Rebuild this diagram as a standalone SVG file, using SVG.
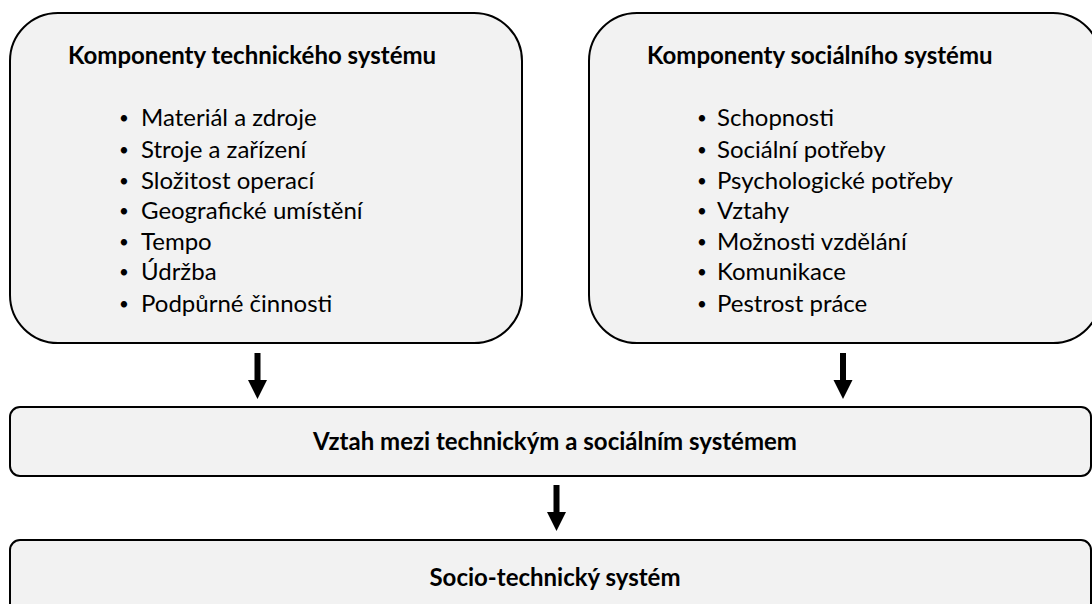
<svg xmlns="http://www.w3.org/2000/svg" width="1092" height="604" viewBox="0 0 1092 604">
  <style>
    .box { fill: #f2f2f2; stroke: #000; stroke-width: 2; }
    .head { font-family: Lato, "Open Sans", sans-serif; font-weight: bold; font-size: 24px; fill: #000; }
    .item { font-family: Lato, "Open Sans", sans-serif; font-size: 24px; fill: #000; }
    .dot { font-family: Lato, "Open Sans", sans-serif; font-size: 17px; fill: #000; text-anchor: middle; }
    .arrow { fill: #000; }
  </style>
  <rect width="1092" height="604" fill="#fff"/>

  <!-- technical system components -->
  <g id="technical">
    <rect class="box" x="10" y="13" width="512" height="330" rx="48" ry="48"/>
    <text class="head" x="68" y="64">Komponenty technického systému</text>
    <g class="dot">
      <text x="124" y="124">•</text>
      <text x="124" y="156">•</text>
      <text x="124" y="187">•</text>
      <text x="124" y="217">•</text>
      <text x="124" y="248">•</text>
      <text x="124" y="278">•</text>
      <text x="124" y="310">•</text>
    </g>
    <g class="item">
      <text x="141" y="126">Materiál a zdroje</text>
      <text x="141" y="158">Stroje a zařízení</text>
      <text x="141" y="189">Složitost operací</text>
      <text x="141" y="219">Geografické umístění</text>
      <text x="141" y="250">Tempo</text>
      <text x="141" y="280">Údržba</text>
      <text x="141" y="312">Podpůrné činnosti</text>
    </g>
  </g>

  <!-- social system components -->
  <g id="social">
    <rect class="box" x="589" y="13" width="512" height="330" rx="48" ry="48"/>
    <text class="head" x="647" y="64">Komponenty sociálního systému</text>
    <g class="dot">
      <text x="702" y="124">•</text>
      <text x="702" y="156">•</text>
      <text x="702" y="187">•</text>
      <text x="702" y="217">•</text>
      <text x="702" y="248">•</text>
      <text x="702" y="278">•</text>
      <text x="702" y="310">•</text>
    </g>
    <g class="item">
      <text x="717" y="126">Schopnosti</text>
      <text x="717" y="158">Sociální potřeby</text>
      <text x="717" y="189">Psychologické potřeby</text>
      <text x="717" y="219">Vztahy</text>
      <text x="717" y="250">Možnosti vzdělání</text>
      <text x="717" y="280">Komunikace</text>
      <text x="717" y="312">Pestrost práce</text>
    </g>
  </g>

  <!-- relationship between the two systems -->
  <g id="relation">
    <rect class="box" x="10" y="407" width="1081" height="69" rx="10" ry="10"/>
    <text class="head" x="555" y="450" text-anchor="middle">Vztah mezi technickým a sociálním systémem</text>
  </g>

  <!-- resulting socio-technical system -->
  <g id="sociotech">
    <rect class="box" x="10" y="540" width="1081" height="80" rx="10" ry="10"/>
    <text class="head" x="555" y="586" text-anchor="middle">Socio-technický systém</text>
  </g>

  <!-- connectors: block arrows -->
  <g id="connectors" class="arrow">
    <polygon points="254.5,353 260.5,353 260.5,380 267,380 257.5,399 248,380 254.5,380"/>
    <polygon points="840,353 846,353 846,380 852.5,380 843,399 833.5,380 840,380"/>
    <polygon points="553.5,485 559.5,485 559.5,512 566,512 556.5,531 547,512 553.5,512"/>
  </g>
</svg>
